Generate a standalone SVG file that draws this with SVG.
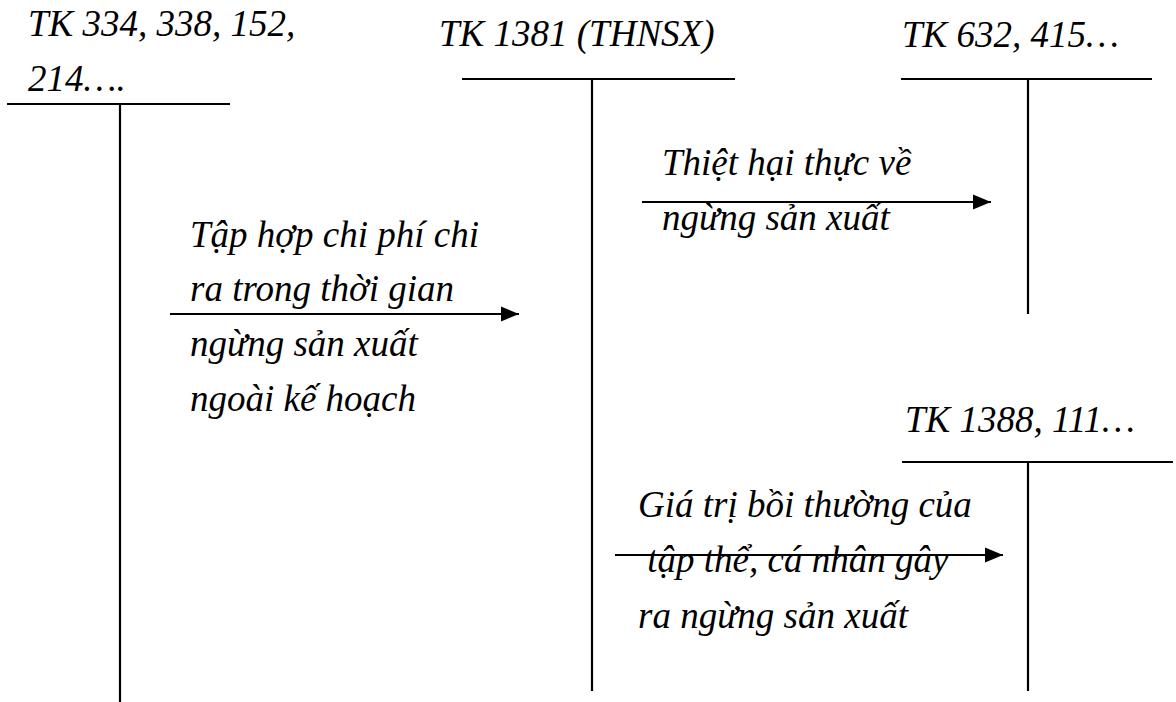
<svg xmlns="http://www.w3.org/2000/svg" width="1176" height="702" viewBox="0 0 1176 702">
  <defs>
    <style>
      .lbl { font-family: "Liberation Serif", "Times New Roman", serif; font-style: italic; font-size: 37px; fill: #000; }
      .ln { stroke: #000; stroke-width: 2.2; fill: none; }
    </style>
    <marker id="arrow" markerWidth="18" markerHeight="16" refX="18" refY="8" orient="auto" markerUnits="userSpaceOnUse">
      <path d="M0,0.5 L18,8 L0,15.5 Z" fill="#000"/>
    </marker>
  </defs>
  <rect width="1176" height="702" fill="#fff"/>

  <!-- T-account: TK 334, 338, 152, 214 -->
  <g id="tk334">
    <text class="lbl" x="28" y="36">TK 334, 338, 152,</text>
    <text class="lbl" x="28" y="91">214….</text>
    <line class="ln" x1="7" y1="104" x2="230" y2="104"/>
    <line class="ln" x1="120" y1="104" x2="120" y2="702"/>
  </g>

  <!-- T-account: TK 1381 -->
  <g id="tk1381">
    <text class="lbl" x="439" y="46">TK 1381 (THNSX)</text>
    <line class="ln" x1="462" y1="79" x2="735" y2="79"/>
    <line class="ln" x1="592" y1="79" x2="592" y2="691"/>
  </g>

  <!-- T-account: TK 632, 415 -->
  <g id="tk632">
    <text class="lbl" x="902" y="47">TK 632, 415…</text>
    <line class="ln" x1="901" y1="79" x2="1152" y2="79"/>
    <line class="ln" x1="1028" y1="79" x2="1028" y2="314"/>
  </g>

  <!-- T-account: TK 1388, 111 -->
  <g id="tk1388">
    <text class="lbl" x="905" y="432">TK 1388, 111…</text>
    <line class="ln" x1="902" y1="462" x2="1173" y2="462"/>
    <line class="ln" x1="1028" y1="462" x2="1028" y2="691"/>
  </g>

  <!-- connectors -->
  <g id="connectors">
    <line class="ln" x1="170" y1="314" x2="519" y2="314" marker-end="url(#arrow)"/>
    <line class="ln" x1="642" y1="202" x2="991" y2="202" marker-end="url(#arrow)"/>
    <line class="ln" x1="615" y1="555" x2="1003" y2="555" marker-end="url(#arrow)"/>
  </g>

  <!-- connector labels -->
  <g id="label-collect">
    <text class="lbl" x="190" y="247">Tập hợp chi phí chi</text>
    <text class="lbl" x="190" y="301">ra trong thời gian</text>
    <text class="lbl" x="190" y="356">ngừng sản xuất</text>
    <text class="lbl" x="190" y="411">ngoài kế hoạch</text>
  </g>
  <g id="label-loss">
    <text class="lbl" x="662" y="175">Thiệt hại thực về</text>
    <text class="lbl" x="662" y="230">ngừng sản xuất</text>
  </g>
  <g id="label-compensation">
    <text class="lbl" x="638" y="517">Giá trị bồi thường của</text>
    <text class="lbl" x="638" y="572" xml:space="preserve"> tập thể, cá nhân gây</text>
    <text class="lbl" x="638" y="628">ra ngừng sản xuất</text>
  </g>
</svg>
